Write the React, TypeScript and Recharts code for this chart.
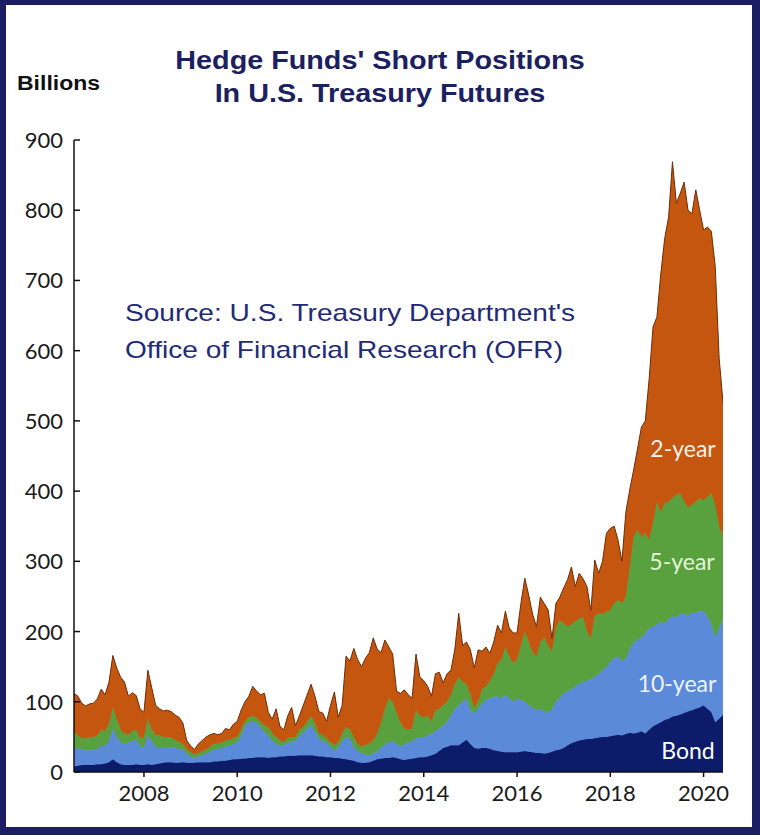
import { AreaChart, Area, XAxis, YAxis } from 'recharts';

// monthly readings, Jul 2006 - Jun 2020 (billions of dollars)
const dates = [
  '2006-07', '2006-08', '2006-09', '2006-10', '2006-11', '2006-12',
  '2007-01', '2007-02', '2007-03', '2007-04', '2007-05', '2007-06', '2007-07', '2007-08', '2007-09', '2007-10', '2007-11', '2007-12',
  '2008-01', '2008-02', '2008-03', '2008-04', '2008-05', '2008-06', '2008-07', '2008-08', '2008-09', '2008-10', '2008-11', '2008-12',
  '2009-01', '2009-02', '2009-03', '2009-04', '2009-05', '2009-06', '2009-07', '2009-08', '2009-09', '2009-10', '2009-11', '2009-12',
  '2010-01', '2010-02', '2010-03', '2010-04', '2010-05', '2010-06', '2010-07', '2010-08', '2010-09', '2010-10', '2010-11', '2010-12',
  '2011-01', '2011-02', '2011-03', '2011-04', '2011-05', '2011-06', '2011-07', '2011-08', '2011-09', '2011-10', '2011-11', '2011-12',
  '2012-01', '2012-02', '2012-03', '2012-04', '2012-05', '2012-06', '2012-07', '2012-08', '2012-09', '2012-10', '2012-11', '2012-12',
  '2013-01', '2013-02', '2013-03', '2013-04', '2013-05', '2013-06', '2013-07', '2013-08', '2013-09', '2013-10', '2013-11', '2013-12',
  '2014-01', '2014-02', '2014-03', '2014-04', '2014-05', '2014-06', '2014-07', '2014-08', '2014-09', '2014-10', '2014-11', '2014-12',
  '2015-01', '2015-02', '2015-03', '2015-04', '2015-05', '2015-06', '2015-07', '2015-08', '2015-09', '2015-10', '2015-11', '2015-12',
  '2016-01', '2016-02', '2016-03', '2016-04', '2016-05', '2016-06', '2016-07', '2016-08', '2016-09', '2016-10', '2016-11', '2016-12',
  '2017-01', '2017-02', '2017-03', '2017-04', '2017-05', '2017-06', '2017-07', '2017-08', '2017-09', '2017-10', '2017-11', '2017-12',
  '2018-01', '2018-02', '2018-03', '2018-04', '2018-05', '2018-06', '2018-07', '2018-08', '2018-09', '2018-10', '2018-11', '2018-12',
  '2019-01', '2019-02', '2019-03', '2019-04', '2019-05', '2019-06', '2019-07', '2019-08', '2019-09', '2019-10', '2019-11', '2019-12',
  '2020-01', '2020-02', '2020-03', '2020-04', '2020-05', '2020-06',
];

const bond = [
  8, 9, 10, 10, 10, 10, 11, 11, 12, 14, 18, 14,
  11, 10, 10, 10, 11, 10, 10, 11, 10, 11, 12, 13,
  14, 14, 13, 13, 14, 13, 13, 13, 14, 14, 14, 14,
  15, 15, 16, 16, 17, 18, 18, 19, 19, 20, 20, 21,
  21, 21, 20, 21, 21, 22, 22, 23, 23, 23, 24, 24,
  24, 24, 23, 22, 22, 21, 21, 20, 20, 19, 18, 17,
  16, 14, 13, 13, 14, 16, 18, 19, 20, 20, 21, 20,
  18, 17, 18, 19, 20, 21, 21, 22, 24, 26, 30, 34,
  36, 38, 38, 38, 42, 46, 40, 34, 33, 34, 34, 33,
  31, 30, 29, 28, 28, 28, 28, 29, 30, 29, 28, 27,
  27, 26, 27, 29, 31, 32, 34, 38, 41, 43, 45, 46,
  47, 47, 48, 49, 50, 50, 51, 52, 53, 52, 54, 56,
  55, 56, 58, 55, 60, 65, 68, 71, 74, 76, 79, 80,
  82, 84, 86, 88, 90, 92, 95, 90, 85, 71, 76, 81,
];

const tenYear = [
  26, 24, 22, 21, 21, 21, 22, 26, 25, 31, 44, 36,
  31, 30, 32, 35, 35, 26, 25, 41, 34, 25, 22, 21,
  21, 21, 21, 20, 18, 13, 9, 7, 8, 10, 12, 15,
  17, 18, 18, 20, 21, 22, 24, 33, 46, 51, 52, 49,
  43, 36, 32, 24, 19, 16, 16, 19, 20, 21, 28, 32,
  38, 44, 35, 26, 22, 21, 15, 11, 15, 25, 32, 31,
  20, 16, 14, 12, 10, 10, 12, 16, 20, 22, 23, 20,
  18, 23, 24, 25, 28, 29, 29, 30, 31, 32, 32, 32,
  36, 42, 52, 57, 58, 58, 48, 50, 57, 64, 69, 72,
  76, 78, 76, 82, 77, 72, 77, 74, 70, 66, 64, 61,
  63, 60, 57, 61, 69, 74, 78, 77, 77, 79, 81, 82,
  83, 85, 88, 91, 95, 100, 106, 110, 112, 106, 108, 119,
  129, 132, 134, 143, 145, 142, 142, 143, 138, 142, 143, 140,
  144, 141, 136, 140, 136, 138, 133, 132, 125, 121, 129, 135,
];

const fiveYear = [
  23, 19, 16, 17, 19, 19, 19, 23, 21, 23, 30, 25,
  18, 15, 11, 13, 14, 12, 15, 24, 16, 17, 18, 16,
  15, 14, 12, 10, 8, 6, 6, 5, 5, 6, 6, 7,
  8, 8, 8, 9, 8, 8, 8, 8, 7, 7, 8, 7,
  8, 9, 12, 10, 10, 7, 5, 6, 7, 6, 8, 8,
  10, 11, 12, 7, 9, 6, 6, 7, 7, 11, 14, 12,
  14, 10, 9, 13, 17, 19, 25, 35, 50, 63, 56, 44,
  34, 22, 18, 18, 40, 30, 28, 28, 17, 30, 28, 29,
  28, 30, 35, 40, 28, 21, 22, 8, 10, 20, 19, 25,
  33, 47, 55, 68, 60, 55, 55, 77, 100, 90, 78, 77,
  95, 106, 96, 82, 105, 110, 100, 92, 92, 93, 92, 93,
  70, 58, 86, 86, 80, 78, 74, 78, 80, 82, 88, 115,
  151, 157, 143, 142, 125, 148, 175, 156, 171, 167, 168, 175,
  171, 160, 155, 152, 159, 160, 159, 170, 187, 188, 145, 119,
];

const twoYear = [
  55, 56, 50, 46, 47, 48, 52, 58, 52, 60, 74, 73,
  75, 73, 55, 55, 49, 42, 35, 69, 60, 42, 38, 37,
  38, 37, 35, 35, 30, 13, 9, 7, 13, 15, 18, 17,
  15, 12, 13, 17, 14, 20, 22, 28, 28, 30, 42, 38,
  38, 46, 21, 20, 40, 20, 17, 32, 42, 16, 20, 31,
  38, 46, 38, 31, 31, 24, 53, 76, 36, 40, 101, 98,
  126, 120, 114, 124, 129, 146, 120, 100, 98, 73, 68, 31,
  42, 55, 50, 43, 80, 55, 52, 42, 36, 52, 52, 32,
  40, 35, 50, 91, 52, 60, 64, 56, 74, 54, 56, 39,
  45, 54, 38, 51, 40, 43, 38, 60, 76, 67, 55, 42,
  64, 48, 51, 18, 35, 33, 50, 67, 82, 49, 65, 54,
  64, 40, 80, 57, 75, 112, 116, 110, 85, 60, 120, 112,
  95, 115, 156, 160, 230, 279, 263, 340, 377, 405, 479, 415,
  427, 455, 423, 415, 444, 410, 385, 384, 373, 340, 240, 191,
];

const yTicks = [0, 100, 200, 300, 400, 500, 600, 700, 800, 900];
const xTicks = [2008, 2010, 2012, 2014, 2016, 2018, 2020];

const data = dates.map((d, i) => {
  const [yr, mo] = d.split('-').map(Number);
  return {
    t: yr + (mo - 1) / 12,
    bond: bond[i],
    ten: tenYear[i],
    five: fiveYear[i],
    two: twoYear[i],
  };
});

const tickFont = 'Lato, "Open Sans", sans-serif';
const arial = '"Liberation Sans", Arial, Helvetica, sans-serif';

const YTick = (props: any) => {
  const { x, y, payload } = props;
  return (
    <g>
      <line x1={x} x2={x + 6} y1={y} y2={y} stroke="#111" strokeWidth={1.5} />
      <text x={x - 11} y={y} dy={8} textAnchor="end" fontSize={22} fontFamily={tickFont} fill="#1a1a1a">
        {payload.value}
      </text>
    </g>
  );
};

const XTick = (props: any) => {
  const { x, y, payload } = props;
  return (
    <text x={x} y={y} dy={24} textAnchor="middle" fontSize={22} fontFamily={tickFont} fill="#1a1a1a">
      {payload.value}
    </text>
  );
};

const label = (text: string, cx: number, cy: number, color: string) => (
  <div
    style={{
      position: 'absolute',
      left: cx - 60,
      top: cy - 14,
      width: 120,
      height: 28,
      lineHeight: '28px',
      textAlign: 'center',
      fontFamily: tickFont,
      fontSize: 23,
      color,
    }}
  >
    {text}
  </div>
);

const App = () => {
  return (
    <div style={{ position: 'absolute', left: 0, top: 0, width: 760, height: 835, background: '#fff', overflow: 'hidden' }}>
      <AreaChart width={760} height={835} data={data} margin={{ top: 140, right: 37, bottom: 23, left: 10 }}>
        <Area type="linear" dataKey="bond" stackId="1" fill="#0d1b6b" stroke="#0d1b6b" fillOpacity={1} isAnimationActive={false} dot={false} activeDot={false} />
        <Area type="linear" dataKey="ten" stackId="1" fill="#5b8ad8" stroke="#5b8ad8" fillOpacity={1} isAnimationActive={false} dot={false} activeDot={false} />
        <Area type="linear" dataKey="five" stackId="1" fill="#58a13e" stroke="#58a13e" fillOpacity={1} isAnimationActive={false} dot={false} activeDot={false} />
        <Area type="linear" dataKey="two" stackId="1" fill="#c4560f" stroke="#6e2c06" strokeWidth={1} fillOpacity={1} isAnimationActive={false} dot={false} activeDot={false} />
        <XAxis
          dataKey="t"
          type="number"
          domain={[2006.5, 2020 + 5 / 12]}
          ticks={xTicks}
          allowDataOverflow
          height={40}
          tickSize={5}
          tickMargin={0}
          tick={XTick}
          tickLine={{ stroke: '#111', strokeWidth: 1.5 }}
          axisLine={{ stroke: '#111', strokeWidth: 1.5 }}
        />
        <YAxis
          type="number"
          domain={[0, 900]}
          ticks={yTicks}
          width={64}
          tickSize={0}
          tickMargin={0}
          tickLine={false}
          tick={YTick}
          axisLine={{ stroke: '#111', strokeWidth: 1.5 }}
        />
      </AreaChart>

      <div
        style={{
          position: 'absolute',
          left: 0,
          top: 44,
          width: 760,
          textAlign: 'center',
          fontFamily: arial,
          fontWeight: 'bold',
          fontSize: 25,
          lineHeight: '33px',
          color: '#1b2160',
          transform: 'scaleX(1.15)',
        }}
      >
        <div>Hedge Funds' Short Positions</div>
        <div>In U.S. Treasury Futures</div>
      </div>

      <div
        style={{
          position: 'absolute',
          left: 17,
          top: 70,
          lineHeight: '26px',
          fontFamily: arial,
          fontWeight: 'bold',
          fontSize: 20,
          color: '#111',
          transform: 'scaleX(1.15)',
          transformOrigin: 'left center',
        }}
      >
        Billions
      </div>

      <div
        style={{
          position: 'absolute',
          left: 125,
          top: 294,
          lineHeight: '37px',
          fontFamily: arial,
          fontSize: 24,
          color: '#1f2b78',
          whiteSpace: 'nowrap',
          transform: 'scaleX(1.17)',
          transformOrigin: 'left center',
        }}
      >
        <div>Source: U.S. Treasury Department's</div>
        <div>Office of Financial Research (OFR)</div>
      </div>

      {label('2-year', 683, 448, '#fbf1e8')}
      {label('5-year', 682, 561, '#e6f4d6')}
      {label('10-year', 677, 683, '#eef3ff')}
      {label('Bond', 688, 750, '#ffffff')}

      <div
        style={{
          position: 'absolute',
          left: 0,
          top: 0,
          width: 760,
          height: 835,
          boxSizing: 'border-box',
          borderStyle: 'solid',
          borderColor: '#1b1e62',
          borderWidth: '5px 8px 8px 6px',
          pointerEvents: 'none',
        }}
      />
    </div>
  );
};

export default App;
